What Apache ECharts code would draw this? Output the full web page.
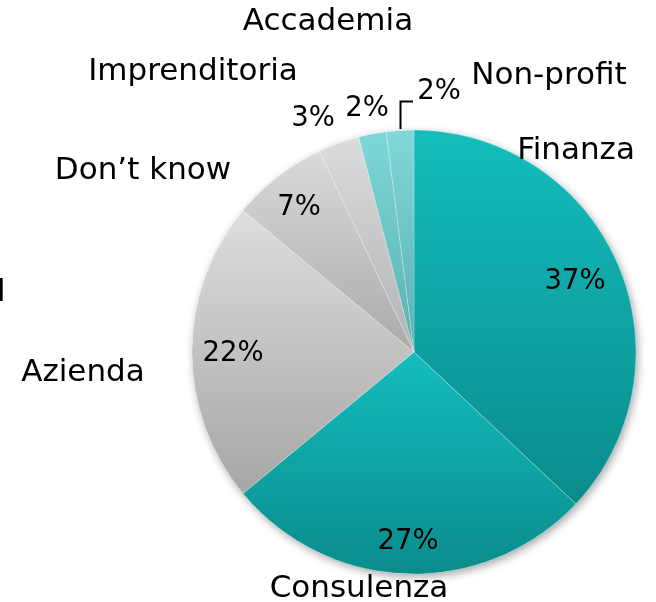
<!DOCTYPE html>
<html>
<head>
<meta charset="utf-8">
<script src="https://cdn.jsdelivr.net/npm/echarts@6/dist/echarts.min.js"></script>
<style>html,body{margin:0;padding:0;background:#fff}#c{width:656px;height:602px}</style>
</head>
<body>
<div id="c"></div>
<script>
// ---- data ----
const categories = ['Finanza', 'Consulenza', 'Azienda', "Don\u2019t know", 'Imprenditoria', 'Accademia', 'Non-profit'];
const values = [37, 27, 22, 7, 3, 2, 2];
const percentLabels = ['37%', '27%', '22%', '7%', '3%', '2%', '2%'];

// ---- style / layout ----
const topColors = ['#14bdbd', '#14bdbd', '#dedede', '#dadada', '#dcdcdc', '#7fd8d8', '#80d9d9'];
const bottomColors = ['#0a8b8b', '#0a8b8b', '#a6a6a6', '#aaaaaa', '#b2b2b2', '#58b0b0', '#5aafaf'];
const namePos = [[576, 151], [359, 589], [83, 373], [143, 171], [193, 72], [328, 22], [549, 76]];
const pctPos = [[575, 282], [408, 542], [233, 354], [299, 208], [313, 119], [367, 109], [439, 92]];
const CENTER = [414, 352], R = 222;
const FONT = 'DejaVu Sans';

const chart = echarts.init(document.getElementById('c'), null, {renderer: 'canvas'});

const sliceData = categories.map((c, i) => ({
  name: c,
  value: values[i],
  itemStyle: {
    color: {type: 'linear', x: 0, y: 0, x2: 0, y2: 1,
      colorStops: [{offset: 0, color: topColors[i]}, {offset: 1, color: bottomColors[i]}]}
  }
}));

chart.setOption({
  animation: false,
  backgroundColor: '#ffffff',
  graphic: [{
    type: 'text', left: -3, top: 277,
    style: {text: 'l', font: '31px "' + FONT + '"', fill: '#000'}
  }, {
    type: 'polyline', silent: true, z: 10,
    shape: {points: [[400.5, 129], [400.5, 101.5], [413, 101.5]]},
    style: {stroke: '#000', lineWidth: 2, fill: null}
  }],
  series: [{
    // shadow disc behind the slices
    type: 'pie',
    center: CENTER,
    radius: R,
    silent: true,
    z: 1,
    data: [{value: 1, name: ''}],
    itemStyle: {
      color: '#ffffff', borderWidth: 0,
      shadowBlur: 9, shadowColor: 'rgba(0,0,0,0.35)', shadowOffsetX: 2, shadowOffsetY: 3
    },
    label: {show: false},
    labelLine: {show: false}
  }, {
    type: 'pie',
    center: CENTER,
    radius: R,
    startAngle: 90,
    clockwise: true,
    silent: true,
    z: 2,
    data: sliceData,
    itemStyle: {borderColor: 'rgba(255,255,255,0.4)', borderWidth: 0.6},
    label: {
      show: true, position: 'inside',
      formatter: p => percentLabels[p.dataIndex],
      fontFamily: FONT, fontSize: 27.5, color: '#000'
    },
    labelLine: {show: false},
    labelLayout: p => ({x: pctPos[p.dataIndex][0], y: pctPos[p.dataIndex][1], align: 'center', verticalAlign: 'middle'})
  }, {
    type: 'pie',
    center: CENTER,
    radius: R,
    startAngle: 90,
    clockwise: true,
    silent: true,
    z: 3,
    data: categories.map((c, i) => ({name: c, value: values[i]})),
    itemStyle: {color: 'rgba(0,0,0,0)', borderWidth: 0},
    label: {
      show: true, position: 'inside',
      formatter: '{b}',
      fontFamily: FONT, fontSize: 31, color: '#000'
    },
    labelLine: {show: false},
    labelLayout: p => ({x: namePos[p.dataIndex][0], y: namePos[p.dataIndex][1], align: 'center', verticalAlign: 'middle'})
  }]
});
</script>
</body>
</html>
